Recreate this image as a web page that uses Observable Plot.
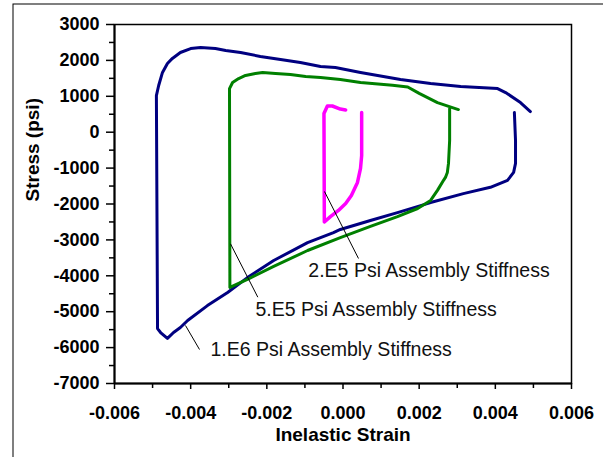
<!DOCTYPE html>
<html>
<head>
<meta charset="utf-8">
<script src="https://cdn.jsdelivr.net/npm/d3@7"></script>
<script src="https://cdn.jsdelivr.net/npm/@observablehq/plot@0.6"></script>
<style>
  html, body { margin: 0; padding: 0; background: #fff; }
  #chart { width: 603px; height: 457px; }
</style>
</head>
<body>
<div id="chart"></div>
<script>
// Hysteresis loops: stress vs. inelastic strain for three assembly stiffnesses.
const strain1E6 = [0.00450, 0.00453, 0.00453, 0.00448, 0.00432, 0.00387, 0.00316, 0.00230, 0.00143, 0.00072,
  -0.00007, -0.00025, -0.00093, -0.00182, -0.00251, -0.00303, -0.00356, -0.00408, -0.00427, -0.00445,
  -0.00461, -0.00479, -0.00487, -0.00490, -0.00484, -0.00474, -0.00461, -0.00448, -0.00427, -0.00400,
  -0.00374, -0.00335, -0.00308, -0.00269, -0.00217, -0.00164, -0.00112, -0.00059, -0.00020, 0.00046,
  0.00151, 0.00230, 0.00309, 0.00406, 0.00427, 0.00466, 0.00492];
const stress1E6 = [550, -230, -870, -1120, -1340, -1535, -1710, -1960, -2240, -2460,
  -2710, -2795, -3075, -3575, -4050, -4465, -4830, -5245, -5440, -5580,
  -5745, -5580, -5470, 1020, 1300, 1665, 1915, 2055, 2220, 2330,
  2360, 2330, 2275, 2220, 2110, 2025, 1940, 1830, 1800, 1665,
  1470, 1355, 1275, 1215, 1105, 825, 575];

const strain5E5 = [0.00280, 0.00280, 0.00277, 0.00274, 0.00269, 0.00264, 0.00248, 0.00230, 0.00196, 0.00143,
  0.00072, -0.00007, -0.00093, -0.00182, -0.00251, -0.00297, -0.00298, -0.00298, -0.00290, -0.00274,
  -0.00256, -0.00230, -0.00211, -0.00177, -0.00138, -0.00098, -0.00059, -0.00007, 0.00046, 0.00130,
  0.00170, 0.00200, 0.00248, 0.00303];
const stress5E5 = [660, -230, -870, -1120, -1260, -1340, -1620, -1900, -2125, -2350,
  -2625, -2935, -3295, -3740, -4100, -4325, 1020, 1215, 1385, 1495,
  1580, 1635, 1665, 1635, 1605, 1550, 1525, 1470, 1385, 1310,
  1260, 1080, 825, 630];

const strain2E5 = [0.00049, 0.00049, 0.00046, 0.00038, 0.00022, 0.00007, -0.00012, -0.00033, -0.00049,
  -0.00050, -0.00041, -0.00028, -0.00007, 0.00007];
const stress2E5 = [550, -650, -1010, -1400, -1765, -1985, -2180, -2350, -2500,
  520, 730, 730, 645, 620];

// Callout labels and their leader lines
const labelText = ["2.E5 Psi Assembly Stiffness", "5.E5 Psi Assembly Stiffness", "1.E6 Psi Assembly Stiffness"];
const labelX = [-0.00091, -0.00230, -0.00348];
const labelY = [-3866, -4944, -6058];
const leaderX1 = [-0.000486, -0.002954, -0.004136];
const leaderY1 = [-1652, -3109, -5384];
const leaderX2 = [0.000407, -0.002237, -0.003768];
const leaderY2 = [-3518, -4596, -6053];

// Axis ticks
const xMajor = [-0.006, -0.004, -0.002, 0, 0.002, 0.004, 0.006];
const xMinor = [-0.005, -0.003, -0.001, 0.001, 0.003, 0.005];
const yMajor = d3.range(-7000, 3001, 1000);
const yMinor = d3.range(-6500, 3000, 1000);

const toRows = (xs, ys) => xs.map((x, i) => ({strain: x, stress: ys[i]}));
const loop1E6 = toRows(strain1E6, stress1E6);
const loop5E5 = toRows(strain5E5, stress5E5);
const loop2E5 = toRows(strain2E5, stress2E5);
const labels = labelText.map((t, i) => ({text: t, x: labelX[i], y: labelY[i]}));
const leaders = leaderX1.map((x, i) => ({x1: x, y1: leaderY1[i], x2: leaderX2[i], y2: leaderY2[i]}));

const lineOpts = {x: "strain", y: "stress", strokeWidth: 3, strokeLinejoin: "round", strokeLinecap: "round", curve: "linear"};

const chart = Plot.plot({
  width: 603,
  height: 457,
  marginLeft: 114,
  marginRight: 32,
  marginTop: 24,
  marginBottom: 74,
  style: {fontFamily: "'Liberation Sans', Arial, sans-serif", fontSize: "18px", color: "#000", background: "#fff"},
  x: {domain: [-0.006, 0.006], label: null},
  y: {domain: [-7000, 3000], label: null},
  marks: [
    // chart-area border (its right and bottom edges fall outside the page)
    Plot.frame({stroke: "#000", strokeWidth: 1, insetLeft: -101.5, insetTop: -20.5, insetRight: -60, insetBottom: -120}),
    Plot.frame({stroke: "#000", strokeWidth: 1.5}),
    Plot.ruleX([-0.006], {stroke: "#000", strokeWidth: 2}),
    Plot.ruleY([-7000], {stroke: "#000", strokeWidth: 2}),
    Plot.axisY(yMajor, {tickSize: 8, tickPadding: 7, fontSize: 18, fontWeight: "bold", strokeWidth: 1.5, tickFormat: d => String(d)}),
    Plot.axisY(yMinor, {tickSize: 5, strokeWidth: 1.5, tickFormat: () => ""}),
    Plot.axisX(xMajor, {tickSize: 6, tickPadding: 17, fontSize: 18, fontWeight: "bold", strokeWidth: 1.5, tickFormat: d => d.toFixed(3)}),
    Plot.axisX(xMinor, {tickSize: 5, strokeWidth: 1.5, tickFormat: () => ""}),
    Plot.line(loop1E6, {...lineOpts, stroke: "#000080"}),
    Plot.line(loop5E5, {...lineOpts, stroke: "#008000"}),
    Plot.line(loop2E5, {...lineOpts, stroke: "#ff00ff", strokeWidth: 3.5}),
    Plot.link(leaders, {x1: "x1", y1: "y1", x2: "x2", y2: "y2", stroke: "#000", strokeWidth: 1}),
    Plot.text(labels, {x: "x", y: "y", text: "text", textAnchor: "start", fontSize: 19.5, fontWeight: "normal", fill: "#111"}),
    Plot.text(["Inelastic Strain"], {text: d => d, frameAnchor: "bottom", dy: 57, fontSize: 19, fontWeight: "bold", fill: "#000"}),
    Plot.text(["Stress (psi)"], {text: d => d, frameAnchor: "left", dx: -81.6, dy: -2.5, rotate: -90, fontSize: 19, fontWeight: "bold", fill: "#000"})
  ]
});
document.getElementById("chart").appendChild(chart);
</script>
</body>
</html>
